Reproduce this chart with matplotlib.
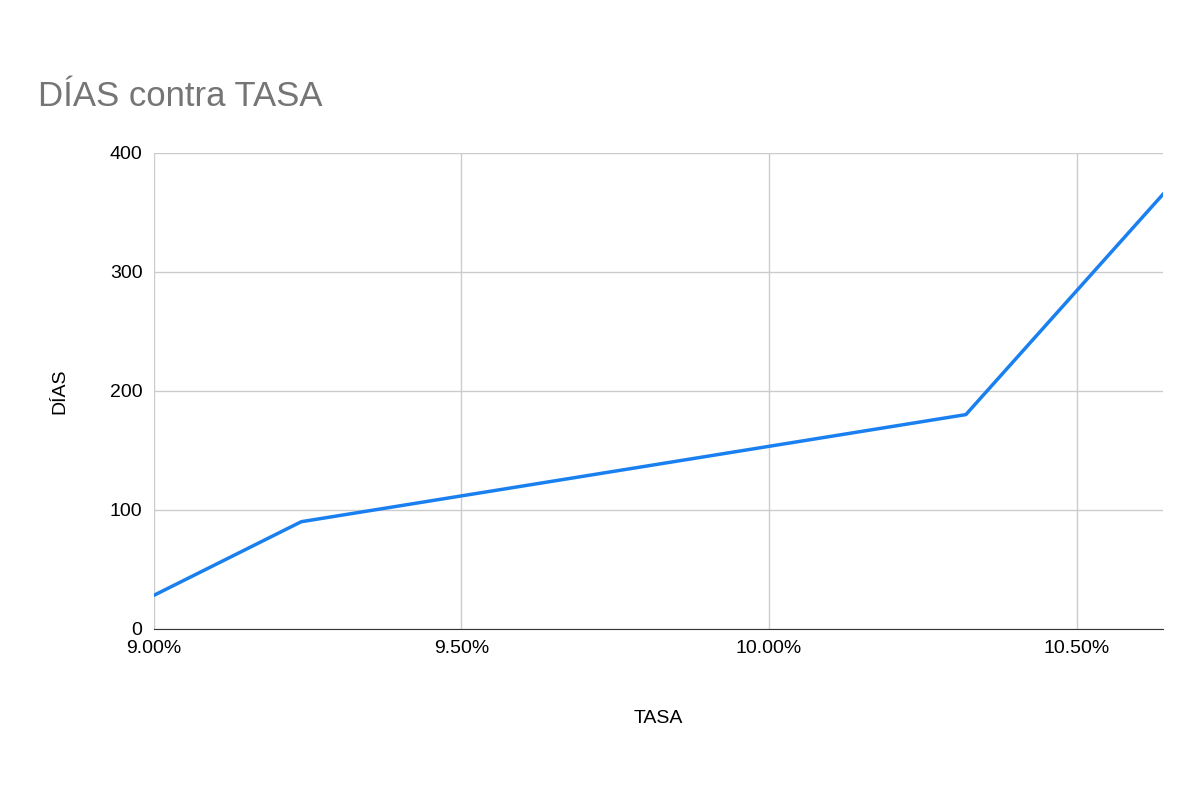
import matplotlib.pyplot as plt
from matplotlib.ticker import FuncFormatter

plt.rcParams['font.family'] = ['Liberation Sans', 'DejaVu Sans']

tasa = [9.00, 9.24, 10.32, 10.64]
dias = [28, 90, 180, 365]

fig = plt.figure(figsize=(12, 8), dpi=100)
ax = fig.add_axes([0.128, 0.214, 0.841, 0.595])
ax.plot(tasa, dias, color='#1a80f0', linewidth=2.5)
ax.set_xlim(9.0, 10.64)
ax.set_ylim(0, 400)
ax.set_xticks([9.0, 9.5, 10.0, 10.5])
ax.set_yticks([0, 100, 200, 300, 400])
ax.xaxis.set_major_formatter(FuncFormatter(lambda v, p: f"{v:.2f}%"))
ax.grid(True, color='#cccccc', linewidth=1)
ax.set_axisbelow(True)
for s in ['top', 'right', 'left']:
    ax.spines[s].set_visible(False)
ax.spines['bottom'].set_color('#333333')
ax.tick_params(length=0, labelsize=14, pad=8)
ax.set_xlabel('TASA', fontsize=14, labelpad=38)
ax.set_ylabel('DÍAS', fontsize=14, labelpad=30)
fig.text(0.032, 0.868, 'DÍAS contra TASA', fontsize=25, color='#757575')
fig.savefig('out.png')
